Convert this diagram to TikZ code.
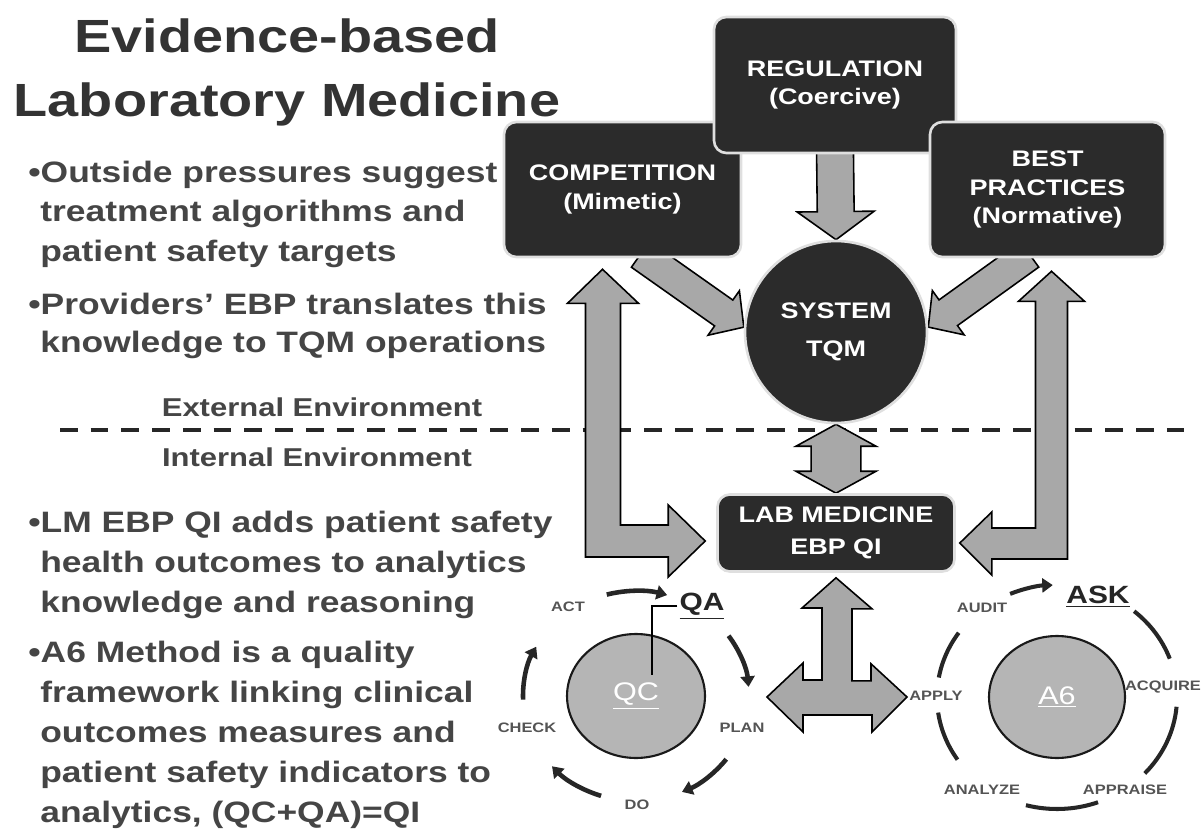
\documentclass[tikz,border=0pt]{standalone}
\usepackage{fontspec}
\setmainfont{Liberation Sans}[FakeStretch=1.2]
\usetikzlibrary{arrows.meta}
\usetikzlibrary{calc}
\usetikzlibrary{backgrounds}
\usetikzlibrary{shapes.geometric}
\definecolor{boxgray}{rgb}{0.17, 0.17, 0.17}
\definecolor{arrgray}{rgb}{0.66, 0.66, 0.66}
\definecolor{ellgray}{rgb}{0.71, 0.71, 0.71}
\definecolor{txtgray}{rgb}{0.27, 0.27, 0.27}
\definecolor{lblgray}{rgb}{0.33, 0.33, 0.33}
\tikzset{title/.style = {anchor = base, inner sep = 0, text = black!80, font = \fontsize{26.5}{30}\selectfont\bfseries}}
\tikzset{line/.style = {anchor = base west, inner sep = 0, text = txtgray, font = \fontsize{16.8}{20}\selectfont\bfseries}}
\tikzset{envlbl/.style = {anchor = base, inner sep = 0, text = txtgray, font = \fontsize{14.7}{17}\selectfont\bfseries}}
\tikzset{darkbox/.style = {draw = gray!25, line width = 1.5pt, fill = boxgray, rounded corners = 7pt,
    text = white, align = center, font = \fontsize{12.8}{16}\selectfont\bfseries}}
\tikzset{darkcirc/.style = {circle, draw = gray!25, line width = 1.5pt, fill = boxgray, minimum size = 3.64cm,
    text = white, align = center, font = \fontsize{12.8}{22}\selectfont\bfseries}}
\tikzset{grayell/.style = {ellipse, draw = black!90, line width = 1.2pt, fill = ellgray, text = white,
    font = \fontsize{14.5}{16}\selectfont}}
\tikzset{cyclbl/.style = {inner sep = 1pt, text = lblgray, font = \fontsize{7.8}{9}\selectfont\bfseries}}
\tikzset{cyctag/.style = {inner sep = 1pt, text = black!85, font = \fontsize{14.2}{16}\selectfont\bfseries}}
\tikzset{cyc/.style = {line width = 2.6pt, black!85, -{Triangle[length = 6pt, width = 8pt]}}}
\tikzset{cycplain/.style = {line width = 2.3pt, black!85}}
\tikzset{divider/.style = {line width = 2.8pt, black!85, dash pattern = on 10pt off 7.5pt}}
\tikzset{fatpoly/.style = {draw, line width = 0.9pt, fill = arrgray, line join = miter}}
\tikzset{fat/.style n args = {3}{fatpoly,
    to path = {let \p1 = (\tikztostart), \p2 = (\tikztotarget),
      \n1 = {atan2(\y2-\y1, \x2-\x1)}, \n2 = {veclen(\x2-\x1, \y2-\y1)} in
      [shift = {(\p1)}, rotate = \n1]
      (0pt, -#1) -- ({\n2*1pt-#3}, -#1) -- ({\n2*1pt-#3}, -#2) -- ({\n2*1pt}, 0pt)
      -- ({\n2*1pt-#3}, #2) -- ({\n2*1pt-#3}, #1) -- (0pt, #1) -- cycle}}}
\tikzset{fatboth/.style n args = {3}{fatpoly,
    to path = {let \p1 = (\tikztostart), \p2 = (\tikztotarget),
      \n1 = {atan2(\y2-\y1, \x2-\x1)}, \n2 = {veclen(\x2-\x1, \y2-\y1)} in
      [shift = {(\p1)}, rotate = \n1]
      (0pt, 0pt) -- (#3, #2) -- (#3, #1) -- ({\n2*1pt-#3}, #1) -- ({\n2*1pt-#3}, #2) -- ({\n2*1pt}, 0pt)
      -- ({\n2*1pt-#3}, -#2) -- ({\n2*1pt-#3}, -#1) -- (#3, -#1) -- (#3, -#2) -- cycle}}}

\begin{document}
\begin{tikzpicture}[x = 0.02cm, y = -0.02cm]
  \useasboundingbox (0, 0) rectangle (1204, 831);

  % title and text on the left
  \node [title] (title1) at (287, 53) {Evidence-based};
  \node [title] (title2) at (287, 117) {Laboratory Medicine};

  \node [line] (b1a) at (28, 183) {\textbullet Outside pressures suggest};
  \node [line] (b1b) at (40, 222) {treatment algorithms and};
  \node [line] (b1c) at (40, 262) {patient safety targets};
  \node [line] (b2a) at (28, 315) {\textbullet Providers’ EBP translates this};
  \node [line] (b2b) at (40, 353) {knowledge to TQM operations};

  \node [envlbl] (ext) at (322, 416) {External Environment};
  \node [envlbl] (int) at (317, 466) {Internal Environment};

  \node [line] (b3a) at (28, 532) {\textbullet LM EBP QI adds patient safety};
  \node [line] (b3b) at (40, 572) {health outcomes to analytics};
  \node [line] (b3c) at (40, 612) {knowledge and reasoning};
  \node [line] (b4a) at (28, 662) {\textbullet A6 Method is a quality};
  \node [line] (b4b) at (40, 702) {framework linking clinical};
  \node [line] (b4c) at (40, 742) {outcomes measures and};
  \node [line] (b4d) at (40, 782) {patient safety indicators to};
  \node [line] (b4e) at (40, 822) {analytics, (QC+QA)=QI};

  % pressures and system
  \node [darkbox, minimum width = 4.74cm, minimum height = 2.7cm] (comp) at (622.5, 189.5) {COMPETITION\\(Mimetic)};
  \node [darkbox, minimum width = 4.84cm, minimum height = 2.72cm] (reg) at (835, 85) {REGULATION\\(Coercive)};
  \node [darkbox, minimum width = 4.7cm, minimum height = 2.7cm] (best) at (1047.5, 189.5) {BEST\\PRACTICES\\(Normative)};
  \node [darkcirc] (tqm) at (836, 332) {SYSTEM\\TQM};
  \node [darkbox, minimum width = 4.74cm, minimum height = 1.54cm, font = \fontsize{12.8}{18}\selectfont\bfseries] (lab) at (836, 533) {LAB MEDICINE\\EBP QI};

  % QC cycle
  \node [grayell, minimum width = 2.76cm, minimum height = 2.48cm] (qc) at (636, 696) {\underline{QC}};
  \node [cyctag] (qa) at (702, 606) {\underline{QA}};
  \draw [line width = 0.8pt] (qa.west) -| ($(qc) + (16, -21)$);
  \node [cyclbl] (act) at (568, 607) {ACT};
  \node [cyclbl] (plan) at (742, 728) {PLAN};
  \node [cyclbl] (lbldo) at (637, 805) {DO};
  \node [cyclbl] (check) at (527, 728) {CHECK};
  \draw [cyc] ($(qc) + (255:113 and 105)$) arc [start angle = 255, end angle = 286, x radius = 113, y radius = 105];
  \draw [cyc] ($(qc) + (325:113 and 105)$) arc [start angle = 325, end angle = 355, x radius = 113, y radius = 105];
  \draw [cyc] ($(qc) + (37:113 and 105)$) arc [start angle = 37, end angle = 66, x radius = 113, y radius = 105];
  \draw [cyc] ($(qc) + (108:113 and 105)$) arc [start angle = 108, end angle = 138, x radius = 113, y radius = 105];
  \draw [cyc] ($(qc) + (178:113 and 105)$) arc [start angle = 178, end angle = 208, x radius = 113, y radius = 105];

  % A6 cycle
  \node [grayell, minimum width = 2.72cm, minimum height = 2.44cm] (asix) at (1057, 697) {\underline{A6}};
  \node [cyctag] (ask) at (1098, 597) {\underline{ASK}};
  \node [cyclbl] (audit) at (982, 608) {AUDIT};
  \node [cyclbl] (acquire) at (1163, 687) {ACQUIRE};
  \node [cyclbl] (appraise) at (1125, 790) {APPRAISE};
  \node [cyclbl] (analyze) at (982, 790) {ANALYZE};
  \node [cyclbl] (apply) at (936, 696) {APPLY};
  \draw [cyc, line width = 2.3pt] ($(asix) + (247:120 and 112)$) arc [start angle = 247, end angle = 268, x radius = 120, y radius = 112];
  \draw [cycplain] ($(asix) + (310:120 and 112)$) arc [start angle = 310, end angle = 340, x radius = 120, y radius = 112];
  \draw [cycplain] ($(asix) + (5:120 and 112)$) arc [start angle = 5, end angle = 43, x radius = 120, y radius = 112];
  \draw [cycplain] ($(asix) + (70:120 and 112)$) arc [start angle = 70, end angle = 105, x radius = 120, y radius = 112];
  \draw [cycplain] ($(asix) + (146:120 and 112)$) arc [start angle = 146, end angle = 172, x radius = 120, y radius = 112];
  \draw [cycplain] ($(asix) + (190:120 and 112)$) arc [start angle = 190, end angle = 215, x radius = 120, y radius = 112];

  \coordinate (ltip) at ($(comp.south) + (-20, 11)$);
  \coordinate (lend) at ($(lab.west) + (-11, 8)$);
  \coordinate (rtip) at ($(best.south) + (4, 13)$);
  \coordinate (rend) at ($(lab.east) + (4, 10)$);
  \coordinate (xtop) at ($(lab.south) + (0, 5)$);
  \coordinate (xl) at (767, 697);
  \coordinate (xr) at (907, 697);

  \begin{pgfonlayer}{background}
    \draw [divider] (60, 430) -- (1194, 430);

    \draw [fat = {10.5pt}{21.9pt}{16pt}] ($(reg.south) + (0, -4)$) to (tqm.north);
    \draw [fat = {9pt}{15.5pt}{14pt}] ($(comp.south) + (18, -4)$) to (tqm.177);
    \draw [fat = {9pt}{15.5pt}{14pt}] ($(best.south) + (-18, -4)$) to (tqm.3);
    \draw [fatboth = {14.2pt}{22.8pt}{12.5pt}] (tqm.south) to (lab.north);

    % L arrows to the lab box
    \draw [fatpoly] (ltip) -- ++(36, 34) -- ++(-18, 0) |- ($(lend) + (-37, -16)$) -- ++(0, -20) -- (lend)
      -- ++(-37, 36) -- ++(0, -20) -| ($(ltip) + (-17, 34)$) -- ++(-18, 0) -- cycle;
    \draw [fatpoly] (rtip) -- ++(-33, 30) -- ++(17, 0) |- ($(rend) + (32, -15)$) -- ++(0, -16) -- (rend)
      -- ++(32, 32) -- ++(0, -16) -| ($(rtip) + (16, 30)$) -- ++(17, 0) -- cycle;

    % cross arrow below the lab box
    \draw [fatpoly] (xtop) -- ++(36, 31) -- ++(-20, 0) -- ++(0, 72) -- ++(19, 0) -- ++(0, -17) -- (xr)
      -- ++(-35, 35) -- ++(0, -17) -- ++(-69, 0) -- ++(0, 17) -- (xl) -- ++(36, -34) -- ++(0, 17)
      -- ++(19, 0) -- ++(0, -72) -- ++(-20, 0) -- cycle;
  \end{pgfonlayer}
\end{tikzpicture}
\end{document}
